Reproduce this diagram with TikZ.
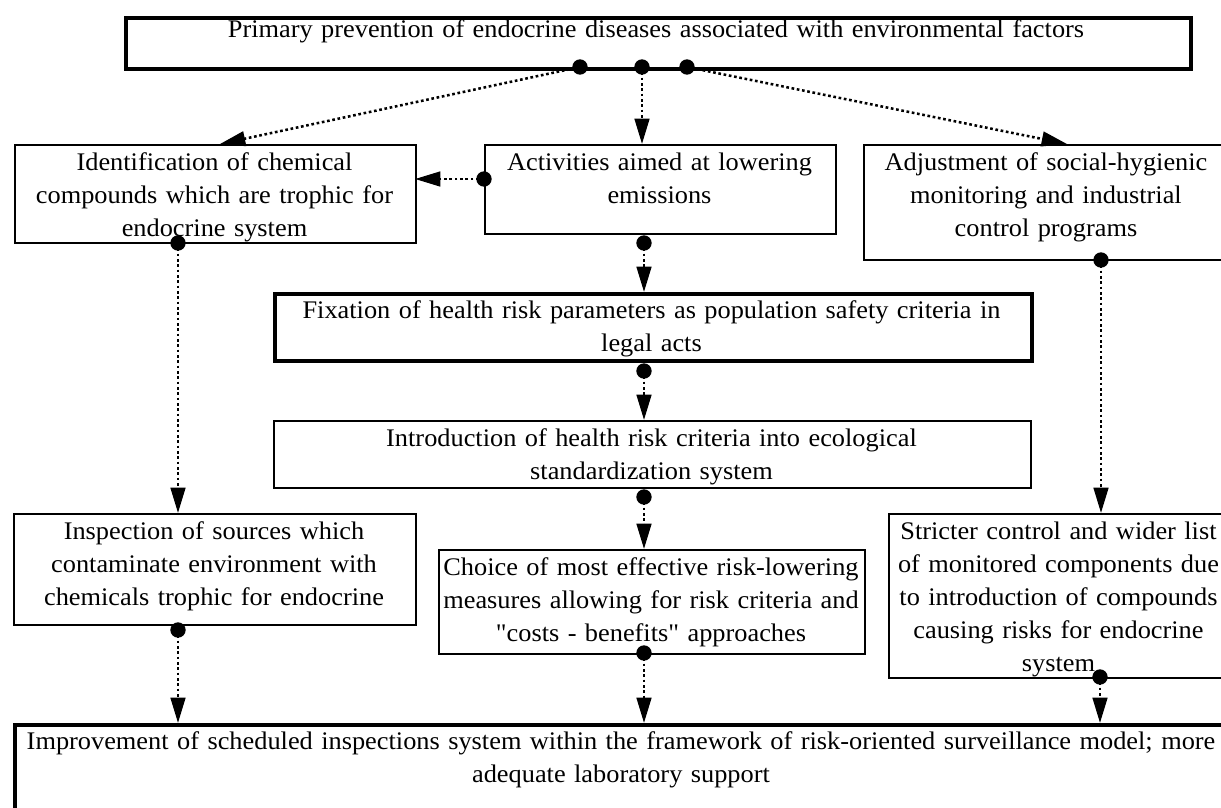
\documentclass[tikz,border=0pt]{standalone}
\usepackage{fontspec}
\setmainfont{Liberation Serif}[Ligatures=TeXOff, FakeStretch=1.04]
\usetikzlibrary{arrows.meta}
\begin{document}
\begin{tikzpicture}[x=0.75pt,y=-0.75pt,
  box/.style={draw, line width=1.5pt, rectangle, anchor=north west, inner sep=0pt},
  thickbox/.style={box, line width=3pt},
  txt/.style={anchor=base, align=center, inner sep=0pt, font=\fontsize{19}{24.75}\selectfont},
  conn/.style={line width=1.9pt, dash pattern=on 2pt off 2pt, -{Triangle[width=11pt,length=19pt]}},
  dot/.style={circle, fill=black, inner sep=0pt, minimum size=11.5pt}]
\useasboundingbox (0,0) rectangle (1221,807);

% boxes
\node[thickbox, minimum width=1065*0.75pt, minimum height=51*0.75pt] (top) at (124,16) {};
\node[box, minimum width=401*0.75pt, minimum height=98*0.75pt] (ident) at (14,144) {};
\node[box, minimum width=351*0.75pt, minimum height=89*0.75pt] (act) at (484,144) {};
\node[box, minimum width=366*0.75pt, minimum height=115*0.75pt] (adj) at (863,144) {};
\node[thickbox, minimum width=757*0.75pt, minimum height=67*0.75pt] (fix) at (273,292) {};
\node[box, minimum width=757*0.75pt, minimum height=67*0.75pt] (intro) at (273,420) {};
\node[box, minimum width=402*0.75pt, minimum height=111*0.75pt] (insp) at (13,513) {};
\node[box, minimum width=426*0.75pt, minimum height=104*0.75pt] (choice) at (438,549) {};
\node[box, minimum width=341*0.75pt, minimum height=164*0.75pt] (strict) at (888,513) {};
\node[thickbox, minimum width=1216*0.75pt, minimum height=110*0.75pt] (bottom) at (13,723) {};

% texts
\node[txt, text width=1040*0.75pt] (ttop) at (656,37) {Primary prevention of endocrine diseases associated with environmental factors};
\node[txt, text width=390*0.75pt] (tident) at (214.5,170) {Identification of chemical\\compounds which are trophic for\\endocrine system};
\node[txt, text width=340*0.75pt] (tact) at (659.5,170) {Activities aimed at lowering\\emissions};
\node[txt, text width=355*0.75pt] (tadj) at (1046,170) {Adjustment of social-hygienic\\monitoring and industrial\\control programs};
\node[txt, text width=745*0.75pt] (tfix) at (651.5,318) {Fixation of health risk parameters as population safety criteria in\\legal acts};
\node[txt, text width=745*0.75pt] (tintro) at (651.5,446) {Introduction of health risk criteria into ecological\\standardization system};
\node[txt, text width=395*0.75pt] (tinsp) at (214,539) {Inspection of sources which\\contaminate environment with\\chemicals trophic for endocrine};
\node[txt, text width=420*0.75pt] (tchoice) at (651,575) {Choice of most effective risk-lowering\\measures allowing for risk criteria and\\"costs - benefits" approaches};
\node[txt, text width=335*0.75pt] (tstrict) at (1058.5,539) {Stricter control and wider list\\of monitored components due\\to introduction of compounds\\causing risks for endocrine\\system};
\node[txt, text width=1205*0.75pt] (tbottom) at (621,749) {Improvement of scheduled inspections system within the framework of risk-oriented surveillance model; more\\adequate laboratory support};

% dots
\node[dot] (d1) at (580,67) {};
\node[dot] (d2) at (642,67) {};
\node[dot] (d3) at (687,67) {};
\node[dot] (d4) at (484,179) {};
\node[dot] (d5) at (178,243) {};
\node[dot] (d6) at (644,243) {};
\node[dot] (d7) at (644,371) {};
\node[dot] (d8) at (644,497) {};
\node[dot] (d9) at (1101,260) {};
\node[dot] (d10) at (178,630) {};
\node[dot] (d11) at (644,653) {};
\node[dot] (d12) at (1100,677) {};

% arrow targets
\coordinate (e1) at (220,144);
\coordinate (e2) at (642,144);
\coordinate (e3) at (1067,144);
\coordinate (e4) at (415,179);
\coordinate (e5) at (178,513);
\coordinate (e6) at (644,292);
\coordinate (e7) at (644,420);
\coordinate (e8) at (644,549);
\coordinate (e9) at (1101,513);
\coordinate (e10) at (178,723);
\coordinate (e11) at (644,723);
\coordinate (e12) at (1100,723);

\draw[conn] (d1.center) -- (e1);
\draw[conn] (d2.center) -- (e2);
\draw[conn] (d3.center) -- (e3);
\draw[conn] (d4.center) -- (e4);
\draw[conn] (d5.center) -- (e5);
\draw[conn] (d6.center) -- (e6);
\draw[conn] (d7.center) -- (e7);
\draw[conn] (d8.center) -- (e8);
\draw[conn] (d9.center) -- (e9);
\draw[conn] (d10.center) -- (e10);
\draw[conn] (d11.center) -- (e11);
\draw[conn] (d12.center) -- (e12);
\end{tikzpicture}
\end{document}
